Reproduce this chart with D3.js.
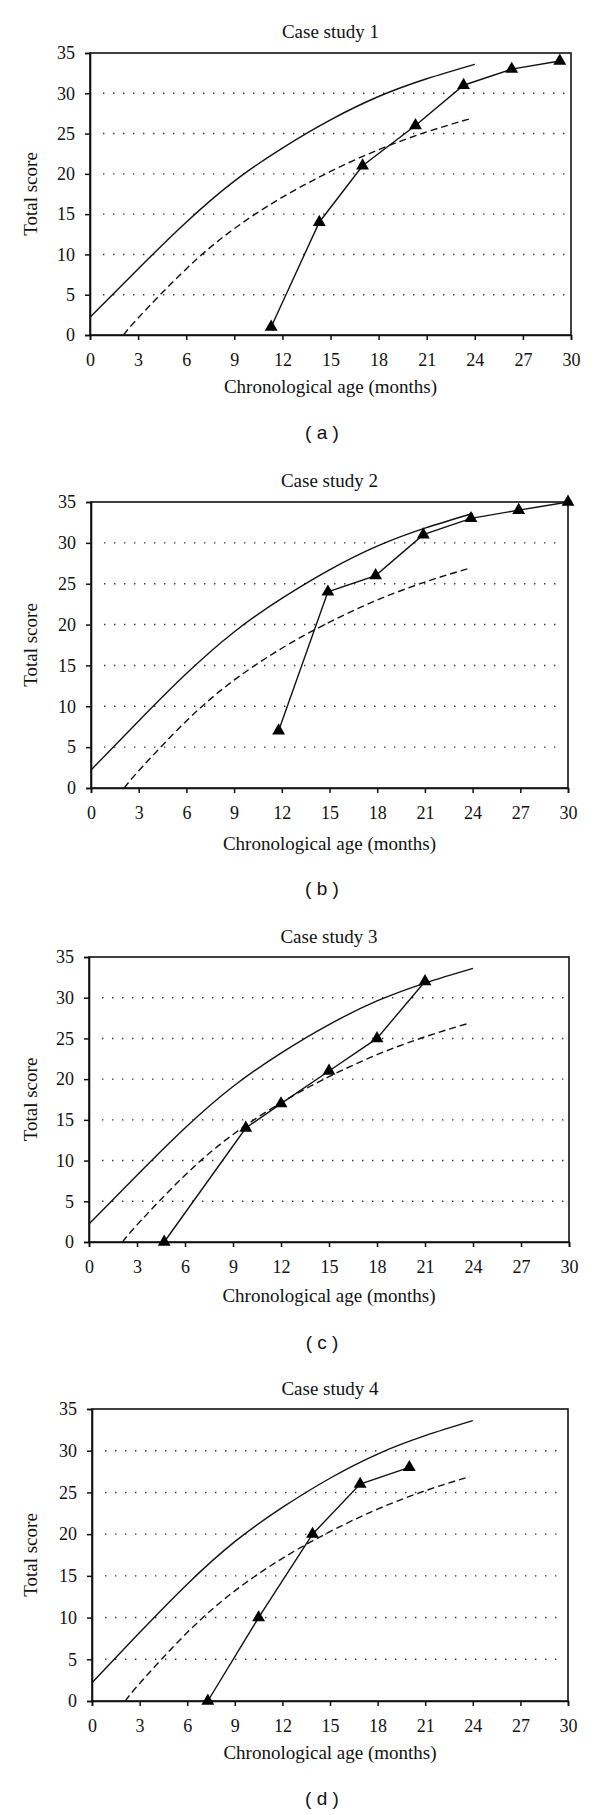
<!DOCTYPE html>
<html>
<head>
<meta charset="utf-8">
<script src="https://cdn.jsdelivr.net/npm/d3@7"></script>
<style>
  html, body { margin: 0; padding: 0; background: #fff; }
  svg { display: block; }
</style>
</head>
<body>
<script>
// ---- Data ----
const ageTicks = [0, 3, 6, 9, 12, 15, 18, 21, 24, 27, 30];
const scoreTicks = [0, 5, 10, 15, 20, 25, 30, 35];
const gridScores = [5, 10, 15, 20, 25, 30];

// Upper (solid) reference curve
const upperAge = [0, 3, 6, 9, 12, 15, 18, 21, 24];
const upperScore = [2.2, 8.2, 14.0, 19.1, 23.2, 26.7, 29.6, 31.8, 33.6];

// Lower (dashed) reference curve
const lowerAge = [2.1, 3, 6, 9, 12, 15, 18, 21, 23.8];
const lowerScore = [0, 2.1, 8.2, 13.2, 17.1, 20.3, 23.0, 25.2, 26.9];

// Case studies
const titles = ["Case study 1", "Case study 2", "Case study 3", "Case study 4"];
const captions = ["( a )", "( b )", "( c )", "( d )"];

const case1Age = [11.3, 14.3, 17.0, 20.3, 23.3, 26.3, 29.3];
const case1Score = [1, 14, 21, 26, 31, 33, 34];
const case2Age = [11.8, 14.9, 17.9, 20.9, 23.9, 26.9, 30.0];
const case2Score = [7, 24, 26, 31, 33, 34, 35];
const case3Age = [4.7, 9.8, 12.0, 15.0, 18.0, 21.0];
const case3Score = [0, 14, 17, 21, 25, 32];
const case4Age = [7.3, 10.5, 13.9, 16.9, 20.0];
const case4Score = [0, 10, 20, 26, 28];

const xLabel = "Chronological age (months)";
const yLabel = "Total score";

// ---- Layout (positions only) ----
const layouts = [
  {left: 90, right: 571, top: 53,  bottom: 335,  titleY: 31,   xLabY: 386,  capY: 432},
  {left: 91, right: 568, top: 502, bottom: 788,  titleY: 480,  xLabY: 843,  capY: 888},
  {left: 89, right: 569, top: 957, bottom: 1242, titleY: 936,  xLabY: 1295, capY: 1342},
  {left: 92, right: 568, top: 1409, bottom: 1701, titleY: 1388, xLabY: 1752, capY: 1798}
];

const cases = [
  {age: case1Age, score: case1Score},
  {age: case2Age, score: case2Score},
  {age: case3Age, score: case3Score},
  {age: case4Age, score: case4Score}
];

const W = 600, H = 1815;
const serif = "'Liberation Serif', 'Times New Roman', serif";
const sans = "'Liberation Sans', Arial, sans-serif";

const svg = d3.select("body").append("svg")
  .attr("width", W).attr("height", H)
  .attr("viewBox", `0 0 ${W} ${H}`);

svg.append("rect").attr("width", W).attr("height", H).attr("fill", "#fff");

const zip = (a, b) => a.map((v, i) => [v, b[i]]);

layouts.forEach((L, i) => {
  const g = svg.append("g");
  const x = d3.scaleLinear().domain([0, 30]).range([L.left, L.right]);
  const y = d3.scaleLinear().domain([0, 35]).range([L.bottom, L.top]);

  // dotted gridlines
  g.append("g").selectAll("line").data(gridScores).join("line")
    .attr("x1", x(0) + 13).attr("x2", x(30) - 5)
    .attr("y1", d => y(d)).attr("y2", d => y(d))
    .attr("stroke", "#333").attr("stroke-width", 1.4)
    .attr("stroke-dasharray", "1.4,8.6");

  // frame
  g.append("rect")
    .attr("x", x(0)).attr("y", y(35))
    .attr("width", x(30) - x(0)).attr("height", y(0) - y(35))
    .attr("fill", "none").attr("stroke", "#111").attr("stroke-width", 1.6);

  // axes
  const xAxis = g.append("g").attr("transform", `translate(0,${y(0)})`)
    .call(d3.axisBottom(x).tickValues(ageTicks).tickSize(5).tickPadding(13));
  const yAxis = g.append("g").attr("transform", `translate(${x(0)},0)`)
    .call(d3.axisLeft(y).tickValues(scoreTicks).tickSize(5).tickPadding(10));
  [xAxis, yAxis].forEach(ax => {
    ax.select(".domain").attr("stroke", "#111").attr("stroke-width", 1.6);
    ax.selectAll(".tick line").attr("stroke", "#111").attr("stroke-width", 1.5);
    ax.selectAll(".tick text").attr("fill", "#111")
      .style("font-family", serif).style("font-size", "18px");
  });

  const line = d3.line().x(d => x(d[0])).y(d => y(d[1]));
  const smooth = d3.line().x(d => x(d[0])).y(d => y(d[1])).curve(d3.curveNatural);

  // solid upper curve
  g.append("path").datum(zip(upperAge, upperScore))
    .attr("d", smooth).attr("fill", "none")
    .attr("stroke", "#111").attr("stroke-width", 1.4);

  // dashed lower curve
  g.append("path").datum(zip(lowerAge, lowerScore))
    .attr("d", smooth).attr("fill", "none")
    .attr("stroke", "#111").attr("stroke-width", 1.4)
    .attr("stroke-dasharray", "7,4");

  // case series
  const pts = zip(cases[i].age, cases[i].score);
  g.append("path").datum(pts)
    .attr("d", line).attr("fill", "none")
    .attr("stroke", "#111").attr("stroke-width", 1.4);
  g.append("g").selectAll("path").data(pts).join("path")
    .attr("transform", d => `translate(${x(d[0])},${y(d[1])})`)
    .attr("d", d3.symbol().type(d3.symbolTriangle).size(72))
    .attr("fill", "#000");

  // title
  g.append("text").attr("x", (x(0) + x(30)) / 2).attr("y", L.titleY)
    .attr("text-anchor", "middle").attr("dominant-baseline", "central")
    .style("font-family", serif).style("font-size", "19px").attr("fill", "#111")
    .text(titles[i]);

  // x label
  g.append("text").attr("x", (x(0) + x(30)) / 2).attr("y", L.xLabY)
    .attr("text-anchor", "middle").attr("dominant-baseline", "central")
    .style("font-family", serif).style("font-size", "19px").attr("fill", "#111")
    .text(xLabel);

  // y label
  g.append("text")
    .attr("transform", `translate(30.5,${(y(0) + y(35)) / 2}) rotate(-90)`)
    .attr("text-anchor", "middle").attr("dominant-baseline", "central")
    .style("font-family", serif).style("font-size", "19px").attr("fill", "#111")
    .text(yLabel);

  // caption
  g.append("text").attr("x", 322).attr("y", L.capY)
    .attr("text-anchor", "middle").attr("dominant-baseline", "central")
    .style("font-family", sans).style("font-size", "19px").attr("fill", "#111")
    .attr("xml:space", "preserve")
    .text(captions[i]);
});
</script>
</body>
</html>
